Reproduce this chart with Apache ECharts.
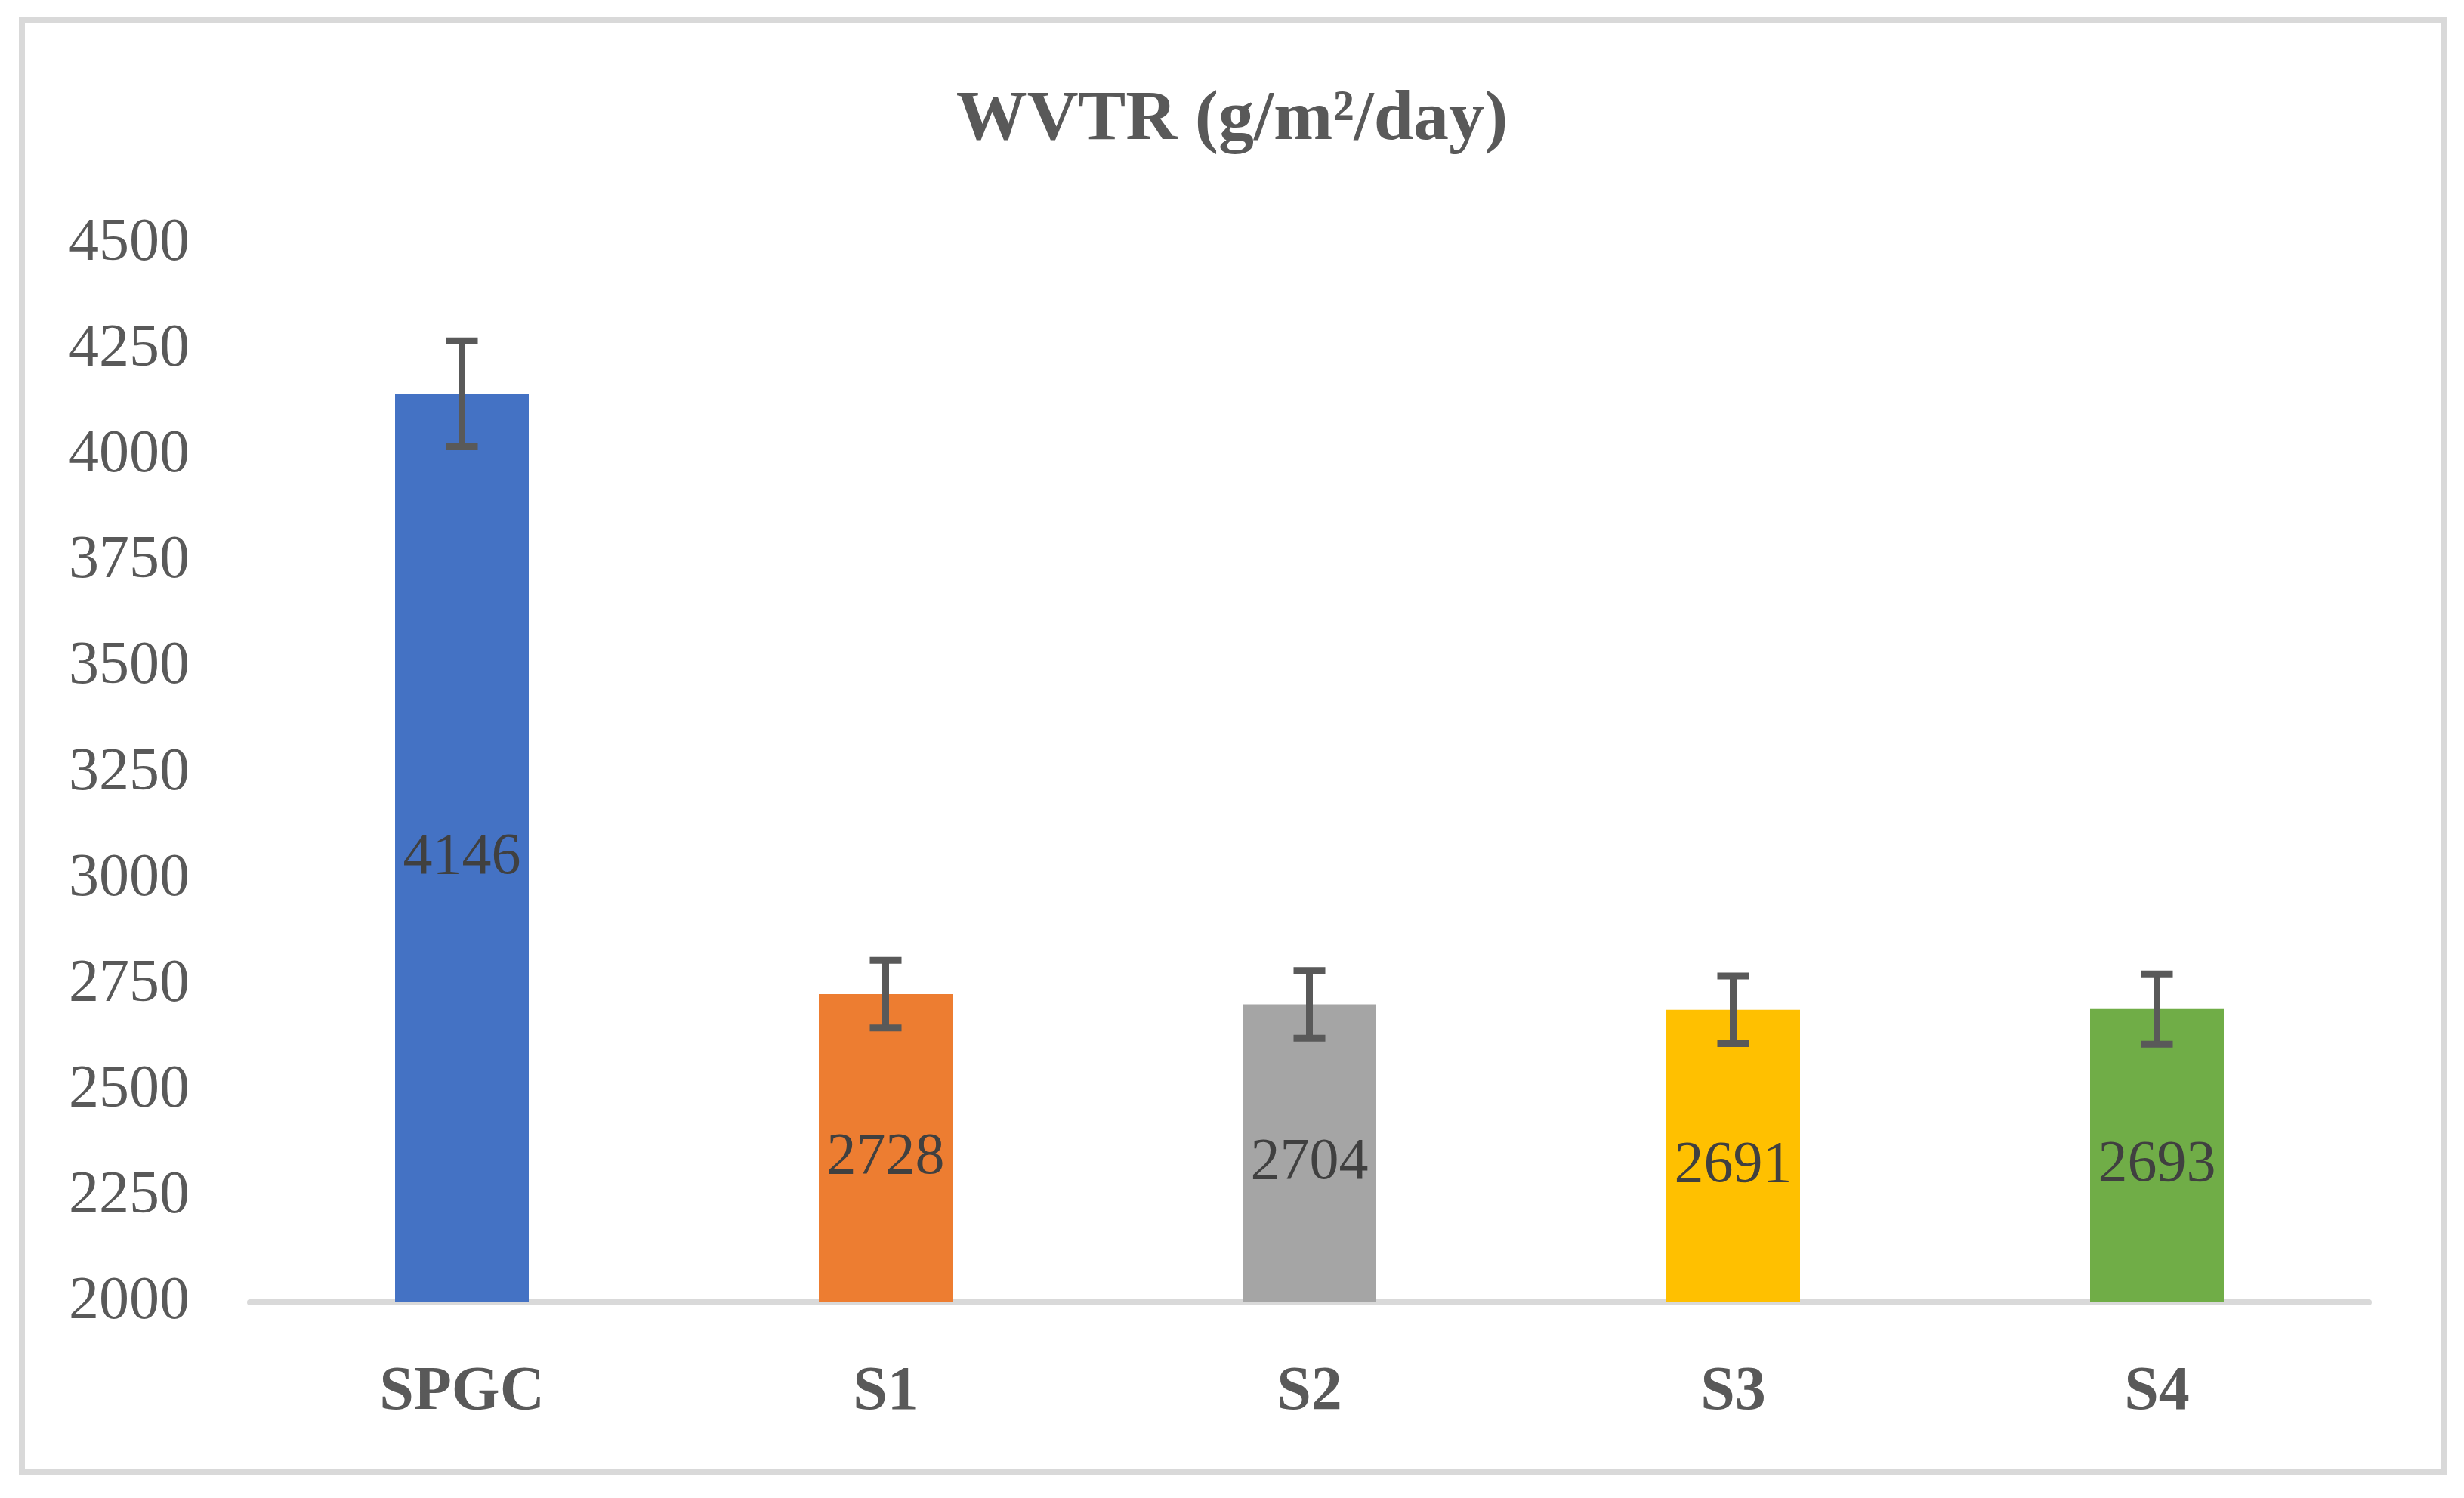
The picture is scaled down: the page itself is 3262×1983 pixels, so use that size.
<!DOCTYPE html>
<html>
<head>
<meta charset="utf-8">
<script src="https://cdn.jsdelivr.net/npm/echarts@6/dist/echarts.min.js"></script>
<style>
html,body{margin:0;padding:0;background:#fff;}
#chart{width:3262px;height:1983px;}
</style>
</head>
<body>
<div id="chart"></div>
<script>
const titleText = 'WVTR (g/m²/day)';
const categories = ['SPGC', 'S1', 'S2', 'S3', 'S4'];
const values = [4146, 2728, 2704, 2691, 2693];
const errors = [125, 80, 80, 80, 83];
const barColors = ['#4472c4', '#ed7d31', '#a5a5a5', '#ffc000', '#70ad47'];
const yTicks = { min: 2000, max: 4500, interval: 250 };

const FONT = '"Liberation Serif", "Times New Roman", serif';

const chart = echarts.init(document.getElementById('chart'), null, { renderer: 'canvas' });

const option = {
  backgroundColor: '#ffffff',
  animation: false,
  graphic: [{
    type: 'rect',
    shape: { x: 29, y: 26, width: 3207, height: 1923 },
    style: { fill: 'none', stroke: '#d9d9d9', lineWidth: 8 },
    silent: true
  }],
  title: {
    text: titleText,
    left: 'center',
    top: 108,
    textStyle: { fontFamily: FONT, fontSize: 94, fontWeight: 'bold', color: '#595959' }
  },
  grid: { left: 331, right: 126, top: 323, bottom: 259, containLabel: false },
  xAxis: {
    type: 'category',
    data: categories,
    axisLine: { show: true, lineStyle: { color: '#d9d9d9', width: 8 } },
    axisTick: { show: false },
    axisLabel: { fontFamily: FONT, fontSize: 82, fontWeight: 'bold', color: '#595959', margin: 79 },
    splitLine: { show: false }
  },
  yAxis: {
    type: 'value',
    min: yTicks.min,
    max: yTicks.max,
    interval: yTicks.interval,
    axisLine: { show: false },
    axisTick: { show: false },
    splitLine: { show: false },
    axisLabel: {
      fontFamily: FONT, fontSize: 80, color: '#595959', margin: 80,
      padding: [12, 0, 0, 0],
      formatter: function (v) { return String(v); }
    }
  },
  series: [
    {
      type: 'bar',
      barWidth: 177,
      data: values.map((v, i) => ({ value: v, itemStyle: { color: barColors[i] } })),
      label: {
        show: true,
        position: 'inside',
        offset: [0, 13],
        fontFamily: FONT,
        fontSize: 78,
        color: '#404040'
      },
      z: 2
    },
    {
      type: 'custom',
      data: values.map((v, i) => [i, v - errors[i], v + errors[i]]),
      renderItem: function (params, api) {
        const lo = api.coord([api.value(0), api.value(1)]);
        const hi = api.coord([api.value(0), api.value(2)]);
        const half = 21;
        return {
          type: 'group',
          children: [
            { type: 'line', shape: { x1: hi[0], y1: hi[1], x2: lo[0], y2: lo[1] }, style: { stroke: '#595959', lineWidth: 9 } },
            { type: 'line', shape: { x1: hi[0] - half, y1: hi[1], x2: hi[0] + half, y2: hi[1] }, style: { stroke: '#595959', lineWidth: 9 } },
            { type: 'line', shape: { x1: lo[0] - half, y1: lo[1], x2: lo[0] + half, y2: lo[1] }, style: { stroke: '#595959', lineWidth: 9 } }
          ]
        };
      },
      z: 5
    }
  ]
};

chart.setOption(option);
</script>
</body>
</html>
